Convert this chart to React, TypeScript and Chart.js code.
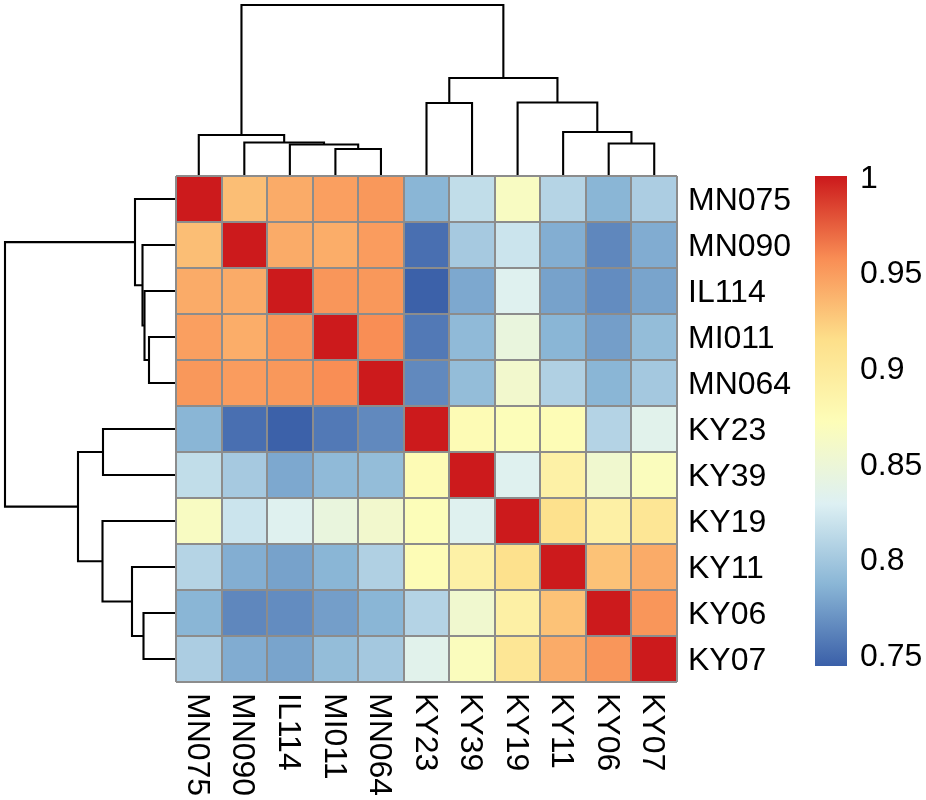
import { useEffect, useRef } from "react"
import { Chart, registerables } from "chart.js"

Chart.register(...registerables)

Chart.defaults.font.family = "'Liberation Sans', Arial, sans-serif"
Chart.defaults.font.size = 32
Chart.defaults.color = "#000"

const samples = ["MN075", "MN090", "IL114", "MI011", "MN064", "KY23", "KY39", "KY19", "KY11", "KY06", "KY07"]

// correlation matrix, rows and columns in dendrogram order
const correlations = [
  [1, 0.932, 0.942, 0.948, 0.952, 0.787, 0.815, 0.865, 0.809, 0.787, 0.804],
  [0.932, 1, 0.942, 0.941, 0.95, 0.752, 0.801, 0.82, 0.783, 0.764, 0.782],
  [0.942, 0.942, 1, 0.953, 0.952, 0.745, 0.78, 0.832, 0.777, 0.766, 0.778],
  [0.948, 0.941, 0.953, 1, 0.957, 0.757, 0.79, 0.845, 0.787, 0.775, 0.792],
  [0.952, 0.95, 0.952, 0.957, 1, 0.765, 0.792, 0.857, 0.806, 0.787, 0.8],
  [0.787, 0.752, 0.745, 0.757, 0.765, 1, 0.875, 0.871, 0.874, 0.808, 0.835],
  [0.815, 0.801, 0.78, 0.79, 0.792, 0.875, 1, 0.832, 0.889, 0.855, 0.868],
  [0.865, 0.82, 0.832, 0.845, 0.857, 0.871, 0.832, 1, 0.912, 0.89, 0.905],
  [0.809, 0.783, 0.777, 0.787, 0.806, 0.874, 0.889, 0.912, 1, 0.93, 0.942],
  [0.787, 0.764, 0.766, 0.775, 0.787, 0.808, 0.855, 0.89, 0.93, 1, 0.953],
  [0.804, 0.782, 0.778, 0.792, 0.8, 0.835, 0.868, 0.905, 0.942, 0.953, 1],
]

// hclust style tree: negative = leaf number, positive = earlier merge number
const treeMerges = [
  [-4, -5],
  [-10, -11],
  [-3, 1],
  [-2, 3],
  [-1, 4],
  [-9, 2],
  [-8, 6],
  [-6, -7],
  [8, 7],
  [5, 9],
]
const treeHeights = [0.27, 0.325, 0.315, 0.335, 0.41, 0.44, 0.735, 0.73, 0.98, 1.71]

const rampValues = [0.744, 0.787, 0.829, 0.872, 0.915, 0.957, 1.0]
const rampColors = ["#3a5fa8", "#8ab6d6", "#ddf0f3", "#fdfdb8", "#fddf8a", "#f98e55", "#cc1a1c"]
const legendTicks = [0.75, 0.8, 0.85, 0.9, 0.95, 1]
const legendRange = [0.7442, 1.0005]

function hexToRgb(hex: string) {
  return [1, 3, 5].map((i) => parseInt(hex.slice(i, i + 2), 16))
}

function colorFor(v: number) {
  let i = 0
  while (i < rampValues.length - 2 && v > rampValues[i + 1]) i++
  const t = (v - rampValues[i]) / (rampValues[i + 1] - rampValues[i])
  const a = hexToRgb(rampColors[i])
  const b = hexToRgb(rampColors[i + 1])
  const c = a.map((n, k) => Math.round(n + (b[k] - n) * t))
  return `rgb(${c[0]}, ${c[1]}, ${c[2]})`
}

// one [leaf position, height] path per merge
function treeSegments() {
  const centers: number[] = []
  const pos = (id: number) => (id < 0 ? -id - 0.5 : centers[id - 1])
  const top = (id: number) => (id < 0 ? 0 : treeHeights[id - 1])
  return treeMerges.map(([a, b], i) => {
    const xa = pos(a)
    const xb = pos(b)
    centers.push((xa + xb) / 2)
    return [
      [xa, top(a)],
      [xa, treeHeights[i]],
      [xb, treeHeights[i]],
      [xb, top(b)],
    ]
  })
}

const lineStyle = {
  showLine: true,
  borderColor: "#000",
  borderWidth: 2.1,
  borderJoinStyle: "miter" as const,
  pointRadius: 0,
  tension: 0,
}

// the axes would otherwise pad the chart area by half a label
const noLabelPadding = (s: any) => {
  s.paddingTop = 0
  s.paddingBottom = 0
  s.paddingLeft = 0
  s.paddingRight = 0
}

const columnLabels = {
  id: "columnLabels",
  afterDraw(chart: Chart) {
    const { ctx, chartArea, scales } = chart
    ctx.save()
    ctx.font = "32px 'Liberation Sans', Arial, sans-serif"
    ctx.fillStyle = "#000"
    ctx.textAlign = "left"
    ctx.textBaseline = "middle"
    samples.forEach((s, i) => {
      ctx.save()
      ctx.translate(scales.x.getPixelForValue(i) - 2, chartArea.bottom + 11)
      ctx.rotate(Math.PI / 2)
      ctx.fillText(s, 0, 0)
      ctx.restore()
    })
    ctx.restore()
  },
}

export default function App() {
  const heatRef = useRef<HTMLCanvasElement>(null)
  const topRef = useRef<HTMLCanvasElement>(null)
  const leftRef = useRef<HTMLCanvasElement>(null)
  const legendRef = useRef<HTMLCanvasElement>(null)

  useEffect(() => {
    const segments = treeSegments()

    const heat = new Chart(heatRef.current!, {
      type: "bar",
      data: {
        labels: samples,
        datasets: correlations.map((row, r) => ({
          data: row.map(() => [r, r + 1]),
          backgroundColor: row.map(colorFor),
          borderWidth: 0,
          grouped: false,
          barPercentage: 1,
          categoryPercentage: 1,
        })),
      } as any,
      options: {
        responsive: false,
        animation: false,
        layout: { padding: { left: 6, top: 6, bottom: 118, right: 0 } },
        plugins: { legend: { display: false }, tooltip: { enabled: false } },
        scales: {
          x: {
            position: "bottom",
            ticks: { display: false },
            grid: { color: "#8c8c8c", lineWidth: 2, z: 1, drawTicks: false },
            border: { display: false },
            afterFit: (s: any) => {
              s.height = 0
              noLabelPadding(s)
            },
          },
          y: {
            position: "left",
            reverse: true,
            min: 0,
            max: 11,
            ticks: { display: false, stepSize: 1 },
            grid: { color: "#8c8c8c", lineWidth: 2, z: 1, drawTicks: false },
            border: { display: false },
            afterFit: (s: any) => {
              s.width = 0
              noLabelPadding(s)
            },
          },
          rowLabels: {
            type: "category",
            position: "right",
            labels: samples,
            offset: true,
            grid: { display: false, drawTicks: false },
            border: { display: false },
            ticks: { padding: 11, labelOffset: 2, autoSkip: false, font: { size: 32 } },
            afterFit: (s: any) => {
              s.width = 133
              noLabelPadding(s)
            },
          },
        },
      } as any,
      plugins: [columnLabels],
    })

    const topTree = new Chart(topRef.current!, {
      type: "scatter",
      data: {
        datasets: segments.map((seg) => ({
          ...lineStyle,
          data: seg.map(([p, h]) => ({ x: p, y: h })),
        })),
      },
      options: {
        responsive: false,
        animation: false,
        plugins: { legend: { display: false }, tooltip: { enabled: false } },
        scales: {
          x: { type: "linear", display: false, min: 0, max: 11 },
          y: { type: "linear", display: false, min: 0, max: 1.76 },
        },
      },
    })

    const leftTree = new Chart(leftRef.current!, {
      type: "scatter",
      data: {
        datasets: segments.map((seg) => ({
          ...lineStyle,
          data: seg.map(([p, h]) => ({ x: h, y: p })),
        })),
      },
      options: {
        responsive: false,
        animation: false,
        plugins: { legend: { display: false }, tooltip: { enabled: false } },
        scales: {
          x: { type: "linear", display: false, reverse: true, min: 0, max: 1.76 },
          y: { type: "linear", display: false, reverse: true, min: 0, max: 11 },
        },
      },
    })

    const legend = new Chart(legendRef.current!, {
      type: "bar",
      data: {
        labels: [""],
        datasets: [
          {
            data: [legendRange as [number, number]],
            barPercentage: 1,
            categoryPercentage: 1,
            borderWidth: 0,
            backgroundColor: (c: any) => {
              const { chartArea, scales, ctx } = c.chart
              if (!chartArea || !scales.y) return rampColors[0]
              const low = scales.y.getPixelForValue(rampValues[0])
              const high = scales.y.getPixelForValue(rampValues[rampValues.length - 1])
              if (!Number.isFinite(low) || !Number.isFinite(high)) return rampColors[0]
              const g = ctx.createLinearGradient(0, low, 0, high)
              rampValues.forEach((v, i) => {
                g.addColorStop((v - rampValues[0]) / (rampValues[rampValues.length - 1] - rampValues[0]), rampColors[i])
              })
              return g
            },
          },
        ],
      },
      options: {
        responsive: false,
        animation: false,
        layout: { padding: { left: 5, top: 16, bottom: 14, right: 0 } },
        plugins: { legend: { display: false }, tooltip: { enabled: false } },
        scales: {
          x: { display: false },
          y: {
            position: "right",
            min: legendRange[0],
            max: legendRange[1],
            grid: { display: false, drawTicks: false },
            border: { display: false },
            afterBuildTicks: (s: any) => {
              s.ticks = legendTicks.map((value) => ({ value }))
            },
            ticks: {
              padding: 13,
              labelOffset: 2,
              autoSkip: false,
              callback: (v: any) => String(v),
            },
            afterFit: (s: any) => {
              s.width = 79
              noLabelPadding(s)
            },
          },
        },
      } as any,
    })

    return () => {
      heat.destroy()
      topTree.destroy()
      leftTree.destroy()
      legend.destroy()
    }
  }, [])

  const abs = (left: number, top: number) => ({ position: "absolute" as const, left, top })

  return (
    <div style={{ position: "absolute", left: 0, top: 0, width: 926, height: 800, background: "#fff", overflow: "hidden" }}>
      <canvas ref={topRef} width={501} height={176} style={abs(176, 0)} />
      <canvas ref={leftRef} width={176} height={506} style={abs(0, 176)} />
      <canvas ref={heatRef} width={640} height={630} style={abs(170, 170)} />
      <canvas ref={legendRef} width={116} height={520} style={abs(810, 160)} />
    </div>
  )
}
